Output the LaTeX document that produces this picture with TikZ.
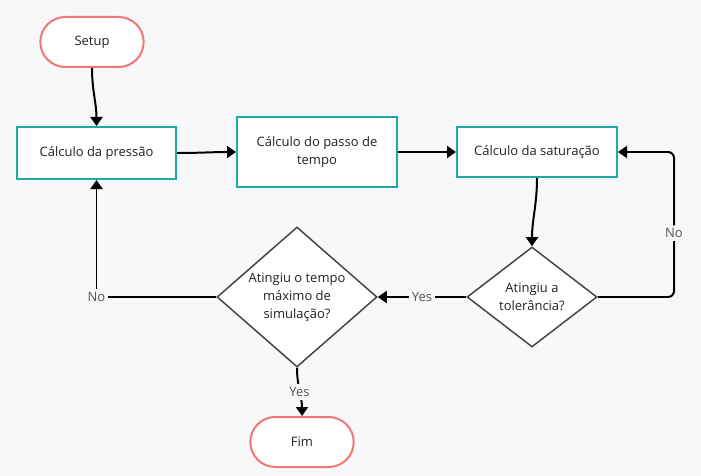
\documentclass[tikz,border=0pt]{standalone}
\usepackage{fontspec}
\setmainfont{Open Sans}
\usetikzlibrary{arrows.meta,shapes.geometric,shapes.misc}
\definecolor{bgcol}{RGB}{248,248,251}
\definecolor{tealcol}{RGB}{32,170,166}
\definecolor{redcol}{RGB}{242,118,118}
\definecolor{dkgray}{RGB}{70,70,70}
\definecolor{txtcol}{RGB}{34,34,34}
\definecolor{lblcol}{RGB}{85,85,85}

\begin{document}
\begin{tikzpicture}[x=1pt,y=1pt,
  font=\fontsize{13}{18}\selectfont, text=txtcol,
  >={Triangle[length=9pt,width=12pt]},
  term/.style={rounded rectangle, draw=redcol, line width=2pt, fill=white, minimum width=110pt, minimum height=50pt},
  proc/.style={rectangle, draw=tealcol, line width=2pt, fill=white, minimum width=160pt, align=center},
  decision/.style={diamond, draw=dkgray, line width=1.5pt, fill=white, inner sep=0pt},
  lbl/.style={fill=bgcol, text=lblcol, inner sep=3pt}]
\fill[bgcol] (0,0) rectangle (701,-476);
\useasboundingbox (0,0) rectangle (701,-476);
\node[term] (setup) at (92,-42) {Setup};
\node[proc, minimum width=159pt, minimum height=52pt] (pres) at (96.5,-153) {Cálculo da pressão};
\node[proc, minimum height=70pt] (passo) at (317,-152) {Cálculo do passo de\\tempo};
\node[proc, minimum height=50pt] (sat) at (537,-152) {Cálculo da saturação};
\node[decision, minimum width=130pt, minimum height=100pt, label={[align=center]center:Atingiu a\\tolerância?}] (tol) at (532,-297) {};
\node[decision, minimum width=160pt, minimum height=140pt, label={[align=center]center:Atingiu o tempo\\máximo de\\simulação?}] (tempo) at (297,-297) {};
\node[term] (fim) at (302,-442) {Fim};
\draw[line width=0.7mm, ->] (setup) to[out=-90,in=90] (pres);
\draw[line width=0.7mm, ->] (pres) to[out=0,in=180] (passo);
\draw[line width=0.7mm, ->] (passo) -- (sat);
\draw[line width=0.7mm, ->] (sat) to[out=-90,in=90] (tol);
\draw[line width=0.7mm, ->, rounded corners=6pt] (tol.east) -| node[lbl, pos=0.72]{No} ([xshift=56pt]sat.east) -- (sat.east);
\draw[line width=0.7mm, ->] (tol.west) -- node[lbl]{Yes} (tempo.east);
\draw[line width=0.7mm, ->] (tempo.west) -| node[lbl, pos=0.5]{No} (pres.south);
\draw[line width=0.7mm, ->] (tempo.south) to[out=-90,in=90] node[lbl]{Yes} (fim.north);
\end{tikzpicture}
\end{document}
